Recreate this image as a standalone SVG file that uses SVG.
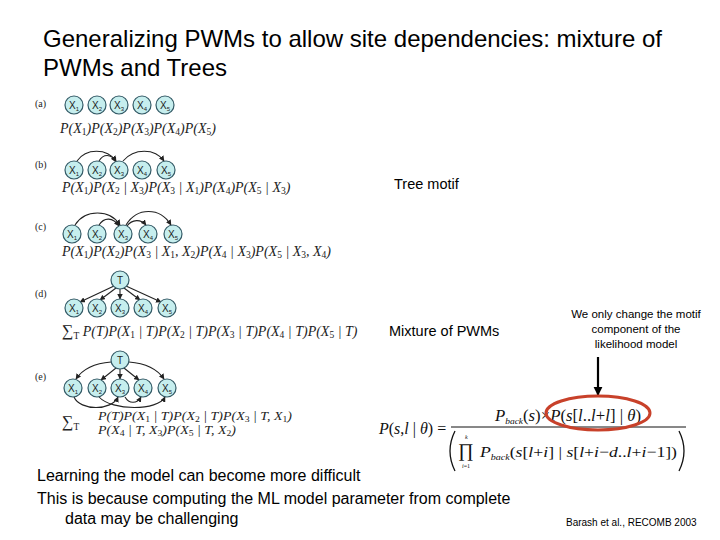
<svg xmlns="http://www.w3.org/2000/svg" width="720" height="540" viewBox="0 0 720 540">
<defs>
<marker id="ah" viewBox="0 0 10 10" refX="9" refY="5" markerWidth="5" markerHeight="5" orient="auto"><path d="M0 0 L10 5 L0 10 z" fill="#222"/></marker>
<marker id="ahb" viewBox="0 0 10 10" refX="9" refY="5" markerWidth="4" markerHeight="5" orient="auto"><path d="M0 0 L10 5 L0 10 z" fill="#000"/></marker>
<style>
.n circle{fill:#c6eeee;stroke:#335a66;stroke-width:1.2}
.n text{font-family:"Liberation Sans",Arial,sans-serif;font-size:10px;fill:#222;text-anchor:middle}
.n tspan{font-size:6px}
.e{fill:none;stroke:#222;stroke-width:1.1;marker-end:url(#ah)}
.lbl{font-family:"Liberation Serif",serif;font-size:10px;fill:#222}
.f{font-family:"Liberation Serif","Times New Roman",serif;font-style:italic;font-size:14px;fill:#222}
.f tspan.s{font-size:9.5px;font-style:normal}
.f2{font-family:"Liberation Serif","Times New Roman",serif;font-style:italic;font-size:11.5px;fill:#222}
.f2 tspan.s{font-size:8px;font-style:normal}
.t{font-family:"Liberation Sans",Arial,sans-serif;fill:#000}
.m{font-family:"Liberation Serif","Times New Roman",serif;font-style:italic;fill:#111}
</style>
</defs>
<rect width="720" height="540" fill="#fff"/>

<text class="t" x="43" y="47" font-size="24">Generalizing PWMs to allow site dependencies: mixture of</text>
<text class="t" x="43" y="76" font-size="24">PWMs and Trees</text>

<text class="lbl" x="35" y="107">(a)</text>
<text class="lbl" x="35" y="168">(b)</text>
<text class="lbl" x="35" y="230">(c)</text>
<text class="lbl" x="35" y="297">(d)</text>
<text class="lbl" x="35" y="380">(e)</text>

<g id="connectors">
<path class="e" d="M77 161 C86 148,107 148,116 161"/>
<path class="e" d="M99 161 C103 154,111 153,116 162"/>
<path class="e" d="M123 161 C134 148,155 148,164 161"/>
<path class="e" d="M75 225 C85 209,110 209,120 225"/>
<path class="e" d="M99 225 C104 217,113 217,119 226"/>
<path class="e" d="M126 225 C137 207,160 207,171 225"/>
<path class="e" d="M127 226 C132 219,141 219,146 225"/>
<path class="e" d="M114 286 L80 302"/>
<path class="e" d="M116 288 L100 300"/>
<path class="e" d="M120 289 L120 299"/>
<path class="e" d="M124 288 L140 300"/>
<path class="e" d="M126 286 L161 302"/>
<path class="e" d="M111 362 Q86 364 76 379"/>
<path class="e" d="M129 362 Q154 364 164 379"/>
<path class="e" d="M116 368 L101 380"/>
<path class="e" d="M120 369 L120 379"/>
<path class="e" d="M124 368 L139 380"/>
<path class="e" d="M74 397 C80 411,112 411,118 397"/>
<path class="e" d="M99 397 C112 411,158 411,165 397"/>
<path class="e" d="M125 397 C129 404,137 404,141 397"/>
<path d="M598 357 L598 395" fill="none" stroke="#000" stroke-width="2.2" marker-end="url(#ahb)"/>
</g>

<g id="a-x1" class="n"><circle cx="74" cy="105" r="9"/><text x="74" y="109">X<tspan dy="2">1</tspan></text></g>
<g id="a-x2" class="n"><circle cx="97" cy="105" r="9"/><text x="97" y="109">X<tspan dy="2">2</tspan></text></g>
<g id="a-x3" class="n"><circle cx="119" cy="105" r="9"/><text x="119" y="109">X<tspan dy="2">3</tspan></text></g>
<g id="a-x4" class="n"><circle cx="142" cy="105" r="9"/><text x="142" y="109">X<tspan dy="2">4</tspan></text></g>
<g id="a-x5" class="n"><circle cx="165" cy="105" r="9"/><text x="165" y="109">X<tspan dy="2">5</tspan></text></g>
<text class="f" x="60" y="133">P(X<tspan class="s" dy="2">1</tspan><tspan dy="-2">)P(X</tspan><tspan class="s" dy="2">2</tspan><tspan dy="-2">)P(X</tspan><tspan class="s" dy="2">3</tspan><tspan dy="-2">)P(X</tspan><tspan class="s" dy="2">4</tspan><tspan dy="-2">)P(X</tspan><tspan class="s" dy="2">5</tspan><tspan dy="-2">)</tspan></text>

<g id="b-x1" class="n"><circle cx="74" cy="170" r="9"/><text x="74" y="174">X<tspan dy="2">1</tspan></text></g>
<g id="b-x2" class="n"><circle cx="97" cy="170" r="9"/><text x="97" y="174">X<tspan dy="2">2</tspan></text></g>
<g id="b-x3" class="n"><circle cx="119" cy="170" r="9"/><text x="119" y="174">X<tspan dy="2">3</tspan></text></g>
<g id="b-x4" class="n"><circle cx="142" cy="170" r="9"/><text x="142" y="174">X<tspan dy="2">4</tspan></text></g>
<g id="b-x5" class="n"><circle cx="166" cy="170" r="9"/><text x="166" y="174">X<tspan dy="2">5</tspan></text></g>
<text class="f" x="62" y="192">P(X<tspan class="s" dy="2">1</tspan><tspan dy="-2">)P(X</tspan><tspan class="s" dy="2">2</tspan><tspan dy="-2"> | X</tspan><tspan class="s" dy="2">3</tspan><tspan dy="-2">)P(X</tspan><tspan class="s" dy="2">3</tspan><tspan dy="-2"> | X</tspan><tspan class="s" dy="2">1</tspan><tspan dy="-2">)P(X</tspan><tspan class="s" dy="2">4</tspan><tspan dy="-2">)P(X</tspan><tspan class="s" dy="2">5</tspan><tspan dy="-2"> | X</tspan><tspan class="s" dy="2">3</tspan><tspan dy="-2">)</tspan></text>

<g id="c-x1" class="n"><circle cx="72" cy="234" r="9"/><text x="72" y="238">X<tspan dy="2">1</tspan></text></g>
<g id="c-x2" class="n"><circle cx="97" cy="234" r="9"/><text x="97" y="238">X<tspan dy="2">2</tspan></text></g>
<g id="c-x3" class="n"><circle cx="123" cy="234" r="9"/><text x="123" y="238">X<tspan dy="2">3</tspan></text></g>
<g id="c-x4" class="n"><circle cx="148" cy="234" r="9"/><text x="148" y="238">X<tspan dy="2">4</tspan></text></g>
<g id="c-x5" class="n"><circle cx="173" cy="234" r="9"/><text x="173" y="238">X<tspan dy="2">5</tspan></text></g>
<text class="f" x="62" y="256">P(X<tspan class="s" dy="2">1</tspan><tspan dy="-2">)P(X</tspan><tspan class="s" dy="2">2</tspan><tspan dy="-2">)P(X</tspan><tspan class="s" dy="2">3</tspan><tspan dy="-2"> | X</tspan><tspan class="s" dy="2">1</tspan><tspan dy="-2">, X</tspan><tspan class="s" dy="2">2</tspan><tspan dy="-2">)P(X</tspan><tspan class="s" dy="2">4</tspan><tspan dy="-2"> | X</tspan><tspan class="s" dy="2">3</tspan><tspan dy="-2">)P(X</tspan><tspan class="s" dy="2">5</tspan><tspan dy="-2"> | X</tspan><tspan class="s" dy="2">3</tspan><tspan dy="-2">, X</tspan><tspan class="s" dy="2">4</tspan><tspan dy="-2">)</tspan></text>

<g id="d-t" class="n"><circle cx="120" cy="280" r="9"/><text x="120" y="284">T</text></g>
<g id="d-x1" class="n"><circle cx="74" cy="308" r="9"/><text x="74" y="312">X<tspan dy="2">1</tspan></text></g>
<g id="d-x2" class="n"><circle cx="97" cy="308" r="9"/><text x="97" y="312">X<tspan dy="2">2</tspan></text></g>
<g id="d-x3" class="n"><circle cx="120" cy="308" r="9"/><text x="120" y="312">X<tspan dy="2">3</tspan></text></g>
<g id="d-x4" class="n"><circle cx="143" cy="308" r="9"/><text x="143" y="312">X<tspan dy="2">4</tspan></text></g>
<g id="d-x5" class="n"><circle cx="167" cy="308" r="9"/><text x="167" y="312">X<tspan dy="2">5</tspan></text></g>
<text class="f" x="62" y="336"><tspan font-style="normal" font-size="16">∑</tspan><tspan class="s" dy="3">T</tspan><tspan dy="-3"> P(T)P(X</tspan><tspan class="s" dy="2">1</tspan><tspan dy="-2"> | T)P(X</tspan><tspan class="s" dy="2">2</tspan><tspan dy="-2"> | T)P(X</tspan><tspan class="s" dy="2">3</tspan><tspan dy="-2"> | T)P(X</tspan><tspan class="s" dy="2">4</tspan><tspan dy="-2"> | T)P(X</tspan><tspan class="s" dy="2">5</tspan><tspan dy="-2"> | T)</tspan></text>

<g id="e-t" class="n"><circle cx="120" cy="360" r="9"/><text x="120" y="364">T</text></g>
<g id="e-x1" class="n"><circle cx="73" cy="388" r="9"/><text x="73" y="392">X<tspan dy="2">1</tspan></text></g>
<g id="e-x2" class="n"><circle cx="97" cy="388" r="9"/><text x="97" y="392">X<tspan dy="2">2</tspan></text></g>
<g id="e-x3" class="n"><circle cx="120" cy="388" r="9"/><text x="120" y="392">X<tspan dy="2">3</tspan></text></g>
<g id="e-x4" class="n"><circle cx="143" cy="388" r="9"/><text x="143" y="392">X<tspan dy="2">4</tspan></text></g>
<g id="e-x5" class="n"><circle cx="167" cy="388" r="9"/><text x="167" y="392">X<tspan dy="2">5</tspan></text></g>
<text class="f" x="62" y="427"><tspan font-style="normal" font-size="16">∑</tspan><tspan class="s" dy="3">T</tspan></text>
<text class="f2" x="98" y="420" textLength="194" lengthAdjust="spacingAndGlyphs">P(T)P(X<tspan class="s" dy="1.5">1</tspan><tspan dy="-1.5"> | T)P(X</tspan><tspan class="s" dy="1.5">2</tspan><tspan dy="-1.5"> | T)P(X</tspan><tspan class="s" dy="1.5">3</tspan><tspan dy="-1.5"> | T, X</tspan><tspan class="s" dy="1.5">1</tspan><tspan dy="-1.5">)</tspan></text>
<text class="f2" x="98" y="434" textLength="138" lengthAdjust="spacingAndGlyphs">P(X<tspan class="s" dy="1.5">4</tspan><tspan dy="-1.5"> | T, X</tspan><tspan class="s" dy="1.5">3</tspan><tspan dy="-1.5">)P(X</tspan><tspan class="s" dy="1.5">5</tspan><tspan dy="-1.5"> | T, X</tspan><tspan class="s" dy="1.5">2</tspan><tspan dy="-1.5">)</tspan></text>

<text class="t" x="394" y="189" font-size="14.5">Tree motif</text>
<text class="t" x="389" y="336" font-size="14.5">Mixture of PWMs</text>

<g class="t" font-size="11.5" text-anchor="middle">
<text x="636" y="318">We only change the motif</text>
<text x="636" y="333">component of the</text>
<text x="636" y="348">likelihood model</text>
</g>

<g id="formula">
<text class="m" x="379" y="434" font-size="16">P<tspan font-style="normal">(</tspan>s<tspan font-style="normal">,</tspan>l<tspan font-style="normal"> | </tspan>θ<tspan font-style="normal">) =</tspan></text>
<text class="m" x="495" y="421" font-size="16" textLength="146" lengthAdjust="spacingAndGlyphs">P<tspan font-size="9" dy="3">back</tspan><tspan dy="-3" font-style="normal">(</tspan>s<tspan font-style="normal">)×</tspan>P<tspan font-style="normal">(</tspan>s<tspan font-style="normal">[</tspan>l<tspan font-style="normal">..</tspan>l<tspan font-style="normal">+</tspan>l<tspan font-style="normal">] | </tspan>θ<tspan font-style="normal">)</tspan></text>
<line x1="451" y1="427" x2="686" y2="427" stroke="#111" stroke-width="1"/>
<path d="M455 431 Q445 451 455 471" fill="none" stroke="#111" stroke-width="1.3"/>
<path d="M679 431 Q689 451 679 471" fill="none" stroke="#111" stroke-width="1.3"/>
<text x="458" y="457" font-family="'Liberation Serif',serif" font-size="19" fill="#111">∏</text>
<text class="m" x="465" y="439" font-size="6">k</text>
<text class="m" x="462" y="468" font-size="6">i<tspan font-style="normal">=1</tspan></text>
<text class="m" x="480" y="457" font-size="15" textLength="197" lengthAdjust="spacingAndGlyphs">P<tspan font-size="8.5" dy="3">back</tspan><tspan dy="-3" font-style="normal">(</tspan>s<tspan font-style="normal">[</tspan>l<tspan font-style="normal">+</tspan>i<tspan font-style="normal">] | </tspan>s<tspan font-style="normal">[</tspan>l<tspan font-style="normal">+</tspan>i<tspan font-style="normal">−</tspan>d<tspan font-style="normal">..</tspan>l<tspan font-style="normal">+</tspan>i<tspan font-style="normal">−1])</tspan></text>
<ellipse cx="598" cy="413" rx="52" ry="17" fill="none" stroke="#c8412a" stroke-width="3"/>
</g>

<g class="t" font-size="16">
<text x="37" y="481">Learning the model can become more difficult</text>
<text x="37" y="504">This is because computing the ML model parameter from complete</text>
<text x="65" y="524">data may be challenging</text>
</g>
<text class="t" x="566" y="526" font-size="10">Barash et al., RECOMB 2003</text>
</svg>
